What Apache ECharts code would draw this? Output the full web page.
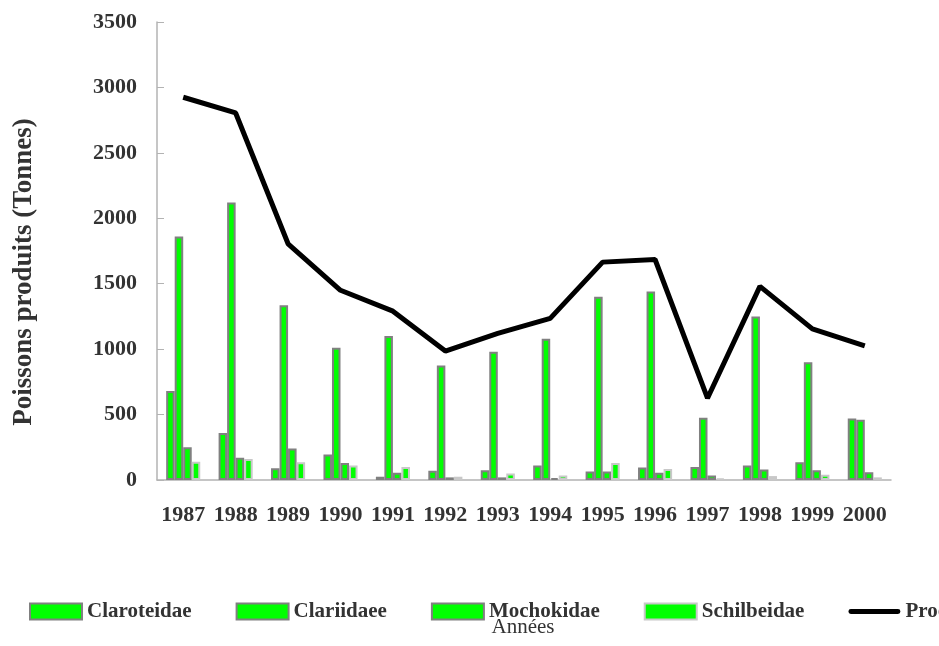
<!DOCTYPE html>
<html>
<head>
<meta charset="utf-8">
<script src="https://cdn.jsdelivr.net/npm/echarts@6/dist/echarts.min.js"></script>
<style>
  html, body { margin: 0; padding: 0; background: #fff; }
  #chart { width: 939px; height: 646px; }
</style>
</head>
<body>
<div id="chart"></div>
<script>
// years on the x axis
const years = ['1987', '1988', '1989', '1990', '1991', '1992', '1993', '1994', '1995', '1996', '1997', '1998', '1999', '2000'];

// catches per family (tonnes)
const claroteidae = [680, 360, 90, 195, 25, 70, 75, 110, 65, 95, 100, 110, 135, 470];
const clariidae = [1860, 2120, 1335, 1010, 1100, 875, 980, 1080, 1400, 1440, 475, 1250, 900, 460];
const mochokidae = [250, 170, 240, 130, 55, 20, 20, 15, 65, 55, 35, 80, 75, 60];
const schilbeidae = [140, 160, 135, 110, 100, 25, 50, 35, 130, 85, 10, 30, 40, 20];
const production = [2925, 2805, 1805, 1450, 1290, 985, 1120, 1235, 1665, 1685, 625, 1480, 1155, 1025];

const yTicks = { min: 0, max: 3500, step: 500 };

const serif = '"Liberation Serif", "Times New Roman", serif';
const green = '#00ff00';

const chart = echarts.init(document.getElementById('chart'));

// helper for the four bar series, they only differ by name / border
function barSeries(name, values, border) {
  return {
    name: name,
    type: 'bar',
    data: values,
    barGap: '0%',
    barCategoryGap: '35%',
    itemStyle: { color: green, borderColor: border, borderWidth: 2 }
  };
}

chart.setOption({
  animation: false,
  grid: { left: 157, right: 48, top: 22, bottom: 166 },
  legend: {
    left: 24,
    top: 596,
    width: 1400, // keep it on one line, the last item runs off the page like in the original
    itemWidth: 52,
    itemHeight: 16,
    itemGap: 44,
    textStyle: { fontFamily: serif, fontWeight: 'bold', fontSize: 21, color: '#333' },
    data: [
      { name: 'Claroteidae', icon: 'rect' },
      { name: 'Clariidaee', icon: 'rect' },
      { name: 'Mochokidae', icon: 'rect' },
      { name: 'Schilbeidae', icon: 'rect' },
      { name: 'Production', icon: 'path://M2,0h48a2.5,2.5 0 0 1 0,5h-48a2.5,2.5 0 0 1 0,-5z' }
    ]
  },
  xAxis: {
    type: 'category',
    data: years,
    axisLine: { lineStyle: { color: '#b3b3b3', width: 1.5 } },
    axisTick: { inside: true, length: 7, lineStyle: { color: '#c8c8c8' } },
    axisLabel: {
      interval: 0,
      hideOverlap: false,
      margin: 24,
      fontFamily: serif,
      fontWeight: 'bold',
      fontSize: 22,
      color: '#333'
    }
  },
  yAxis: {
    type: 'value',
    min: yTicks.min,
    max: yTicks.max,
    interval: yTicks.step,
    axisLine: { show: true, lineStyle: { color: '#b3b3b3', width: 1.5 } },
    axisTick: { show: true, inside: true, length: 7, lineStyle: { color: '#b3b3b3' } },
    splitLine: { show: false },
    axisLabel: {
      margin: 20,
      formatter: (v) => String(v),
      fontFamily: serif,
      fontWeight: 'bold',
      fontSize: 22,
      color: '#333'
    }
  },
  graphic: [
    {
      type: 'text',
      x: 24,
      y: 272,
      rotation: Math.PI / 2,
      style: {
        text: 'Poissons produits (Tonnes)',
        fontFamily: serif,
        fontWeight: 'bold',
        fontSize: 27,
        fill: '#333',
        align: 'center',
        verticalAlign: 'middle'
      }
    },
    {
      type: 'text',
      x: 523,
      y: 627,
      style: {
        text: 'Années',
        fontFamily: serif,
        fontSize: 21,
        fill: '#333',
        align: 'center',
        verticalAlign: 'middle'
      }
    }
  ],
  series: [
    barSeries('Claroteidae', claroteidae, '#808080'),
    barSeries('Clariidaee', clariidae, '#808080'),
    barSeries('Mochokidae', mochokidae, '#808080'),
    barSeries('Schilbeidae', schilbeidae, '#c8c8c8'),
    {
      name: 'Production',
      type: 'line',
      data: production,
      symbol: 'none',
      z: 5,
      lineStyle: { color: '#000', width: 5 },
      itemStyle: { color: '#000' }
    }
  ]
});
</script>
</body>
</html>
